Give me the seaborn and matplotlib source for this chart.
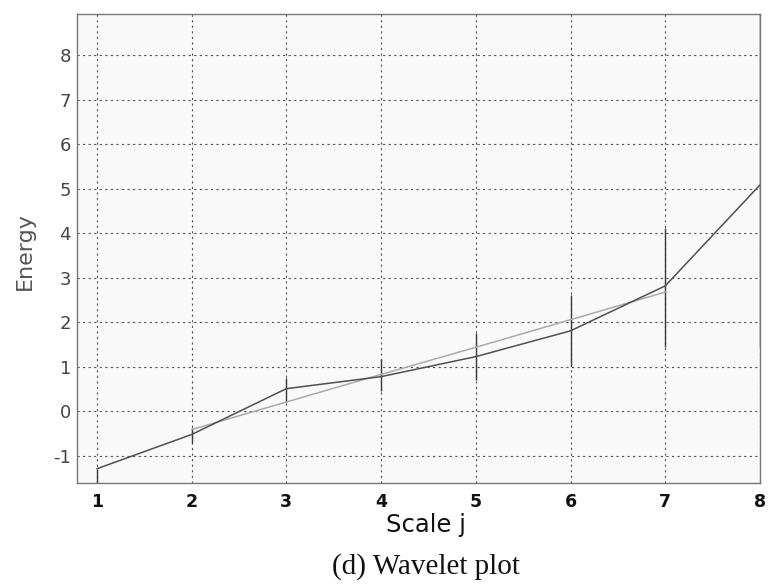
import matplotlib
matplotlib.use("Agg")
import matplotlib.pyplot as plt
import seaborn as sns
import pandas as pd

# Wavelet energy per scale
scales = [1, 2, 3, 4, 5, 6, 7, 8]
energy = [-1.29, -0.52, 0.51, 0.78, 1.23, 1.81, 2.82, 5.09]
err_low = [-2.0, -0.71, 0.22, 0.45, 0.71, 1.01, 1.44, 1.44]
err_high = [-1.29, -0.37, 0.74, 1.18, 1.77, 2.62, 4.12, 9.5]

# Linear fit over the scaling range j = 2..7
fit_scales = [2, 3, 4, 5, 6, 7]
fit_energy = [-0.41, 0.21, 0.83, 1.44, 2.06, 2.68]

x_ticks = [1, 2, 3, 4, 5, 6, 7, 8]
y_ticks = [-1, 0, 1, 2, 3, 4, 5, 6, 7, 8]

sns.set_style("white")
plt.rcParams["font.family"] = ["DejaVu Sans"]

W, H = 771, 584
fig = plt.figure(figsize=(W / 100, H / 100), dpi=100)
ax = fig.add_axes([77 / W, 1 - 483 / H, (760 - 77) / W, (483 - 14) / H])
ax.set_facecolor("#f9f9f9")

df = pd.DataFrame({"j": scales, "E": energy})
df_fit = pd.DataFrame({"j": fit_scales, "E": fit_energy})

ax.vlines(scales, err_low, err_high, color="#3a3a3a", linewidth=1.0, zorder=3)
sns.lineplot(data=df_fit, x="j", y="E", ax=ax, color="#ababab", linewidth=1.1, zorder=4)
sns.lineplot(data=df, x="j", y="E", ax=ax, color="#505050", linewidth=1.1, zorder=5)

ax.set_xlim(0.79, 8.0)
ax.set_ylim(-1.61, 8.93)
ax.set_xticks(x_ticks)
ax.set_yticks(y_ticks)
ax.set_xticklabels([str(v) for v in x_ticks], fontsize=12.5, fontweight="bold", color="#111111")
ax.set_yticklabels([str(v) for v in y_ticks], fontsize=13, color="#444444")
ax.tick_params(axis="x", length=0, pad=7.0)
ax.tick_params(axis="y", length=0, pad=4.3)

ax.grid(True, color="#555555", linestyle=(0, (2, 3)), linewidth=0.8)
for s in ax.spines.values():
    s.set_color("#777777")
    s.set_linewidth(1.0)

ax.set_xlabel("Scale j", fontsize=17.5, color="#111111")
ax.xaxis.set_label_coords((426 - 77) / 683, (483 - 532) / 469)
ax.xaxis.label.set_va("baseline")

ax.set_ylabel("Energy", fontsize=16, color="#555555")
ax.yaxis.set_label_coords((25 - 77) / 683, (483 - 251) / 469)
ax.yaxis.label.set_va("center")

fig.text(332 / W, 1 - 574 / H, "(d) Wavelet plot", ha="left", va="baseline",
         fontsize=21, family=["Liberation Serif", "DejaVu Serif"], color="#111111")

fig.savefig("out.png", dpi=100, facecolor="white")
